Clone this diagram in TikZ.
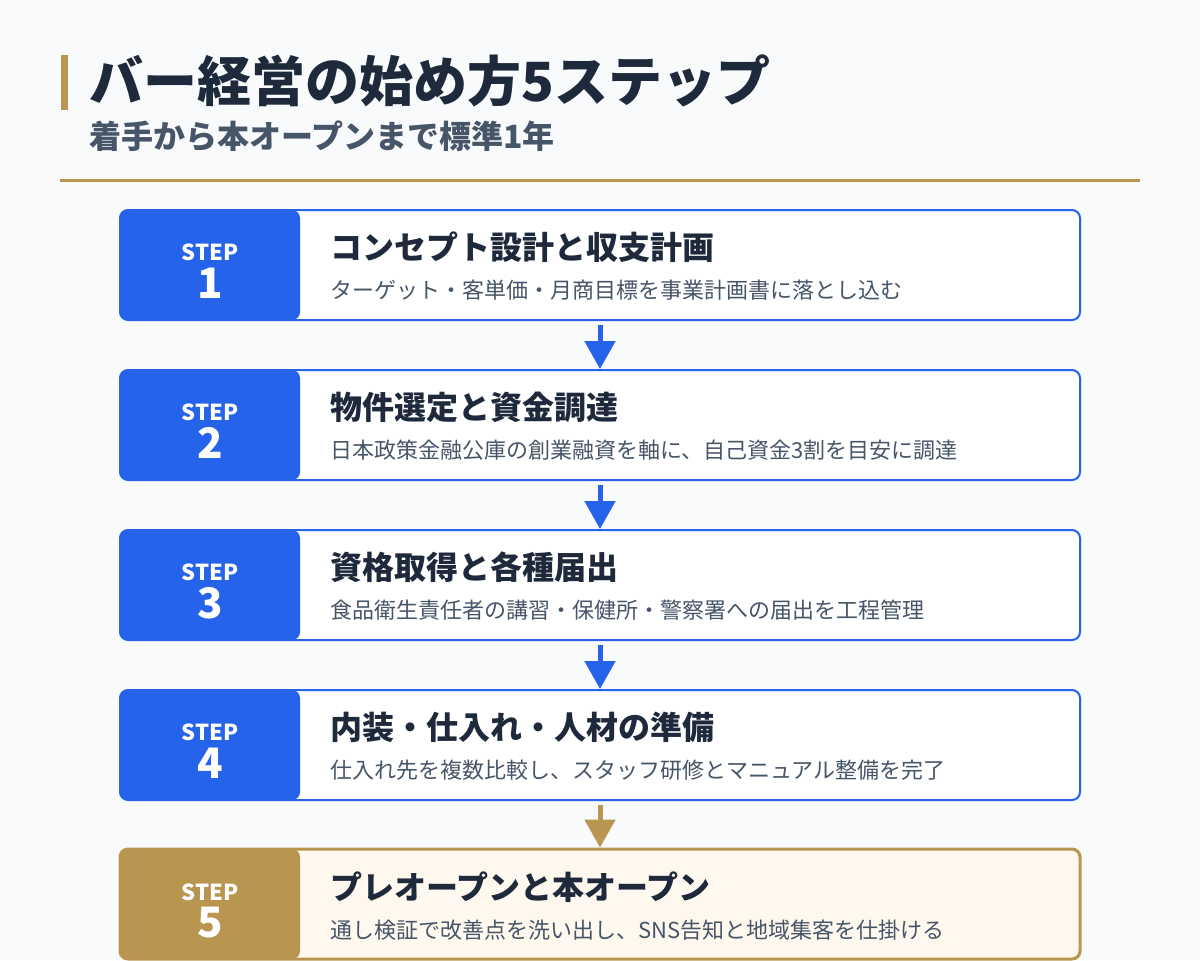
\documentclass[tikz,border=0pt]{standalone}
\usepackage{fontspec}
\setmainfont{Noto Sans CJK JP}
\usetikzlibrary{arrows.meta,positioning}
\definecolor{stepblue}{HTML}{2563EB}
\definecolor{gold}{HTML}{B8964F}
\definecolor{ink}{HTML}{1E293B}
\definecolor{slate}{HTML}{475569}
\definecolor{pagebg}{HTML}{F8FAFC}
\definecolor{cream}{HTML}{FFF8EE}
\begin{document}
\begin{tikzpicture}[x=0.5pt,y=-0.5pt,
  card/.style={draw=stepblue, line width=1pt, fill=white, rounded corners=4pt,
    minimum width=480pt, minimum height=55pt, inner sep=0pt,
    path picture={\fill[#1] (path picture bounding box.north west) rectangle
      ([xshift=90pt]path picture bounding box.south west);}},
  card/.default=stepblue,
  steplbl/.style={text=white, font=\bfseries\fontsize{11pt}{11pt}\selectfont, inner sep=0pt},
  stepnum/.style={text=white, font=\bfseries\fontsize{21pt}{21pt}\selectfont, inner sep=0pt},
  cardttl/.style={anchor=west, text=ink, font=\bfseries\fontsize{16pt}{16pt}\selectfont, inner sep=0pt},
  carddesc/.style={anchor=west, text=slate, font=\fontsize{11pt}{11pt}\selectfont, inner sep=0pt},
  flow/.style={stepblue, line width=2.5pt, shorten <=2pt, -{Triangle[length=14pt,width=15pt]}}
]
  \fill[pagebg] (0,0) rectangle (1200,960);
  \useasboundingbox (0,0) rectangle (1200,960);
  % heading
  \fill[gold] (61,55) rectangle (68,110);
  \node[anchor=west, text=ink, font=\bfseries\fontsize{27pt}{27pt}\selectfont, inner sep=0pt] (title) at (89,81) {バー経営の始め方5ステップ};
  \node[anchor=west, text=slate, font=\bfseries\fontsize{16pt}{16pt}\selectfont, inner sep=0pt] (subtitle) at (89,136) {着手から本オープンまで標準1年};
  \draw[gold, line width=1.5pt] (60,180) -- (1140,180);
  % step 1
  \node[card] (c1) at (600,265) {};
  \node[steplbl] (l1) at (210,252) {STEP};
  \node[stepnum] (n1) at (210,283) {1};
  \node[cardttl] (t1) at (330,247) {コンセプト設計と収支計画};
  \node[carddesc] (d1) at (330,290) {ターゲット・客単価・月商目標を事業計画書に落とし込む};
  % step 2
  \node[card] (c2) at (600,425) {};
  \node[steplbl] (l2) at (210,412) {STEP};
  \node[stepnum] (n2) at (210,443) {2};
  \node[cardttl] (t2) at (330,407) {物件選定と資金調達};
  \node[carddesc] (d2) at (330,450) {日本政策金融公庫の創業融資を軸に、自己資金3割を目安に調達};
  % step 3
  \node[card] (c3) at (600,585) {};
  \node[steplbl] (l3) at (210,572) {STEP};
  \node[stepnum] (n3) at (210,603) {3};
  \node[cardttl] (t3) at (330,567) {資格取得と各種届出};
  \node[carddesc] (d3) at (330,610) {食品衛生責任者の講習・保健所・警察署への届出を工程管理};
  % step 4
  \node[card] (c4) at (600,745) {};
  \node[steplbl] (l4) at (210,732) {STEP};
  \node[stepnum] (n4) at (210,763) {4};
  \node[cardttl] (t4) at (330,727) {内装・仕入れ・人材の準備};
  \node[carddesc] (d4) at (330,770) {仕入れ先を複数比較し、スタッフ研修とマニュアル整備を完了};
  % step 5
  \node[card=gold, draw=gold, fill=cream, line width=1.5pt] (c5) at (600,904) {};
  \node[steplbl] (l5) at (210,892) {STEP};
  \node[stepnum] (n5) at (210,923) {5};
  \node[cardttl] (t5) at (330,887) {プレオープンと本オープン};
  \node[carddesc] (d5) at (330,930) {通し検証で改善点を洗い出し、SNS告知と地域集客を仕掛ける};
  % arrows
  \draw[flow] (c1) -- (c2);
  \draw[flow] (c2) -- (c3);
  \draw[flow] (c3) -- (c4);
  \draw[flow, gold] (c4) -- (c5);
\end{tikzpicture}
\end{document}
